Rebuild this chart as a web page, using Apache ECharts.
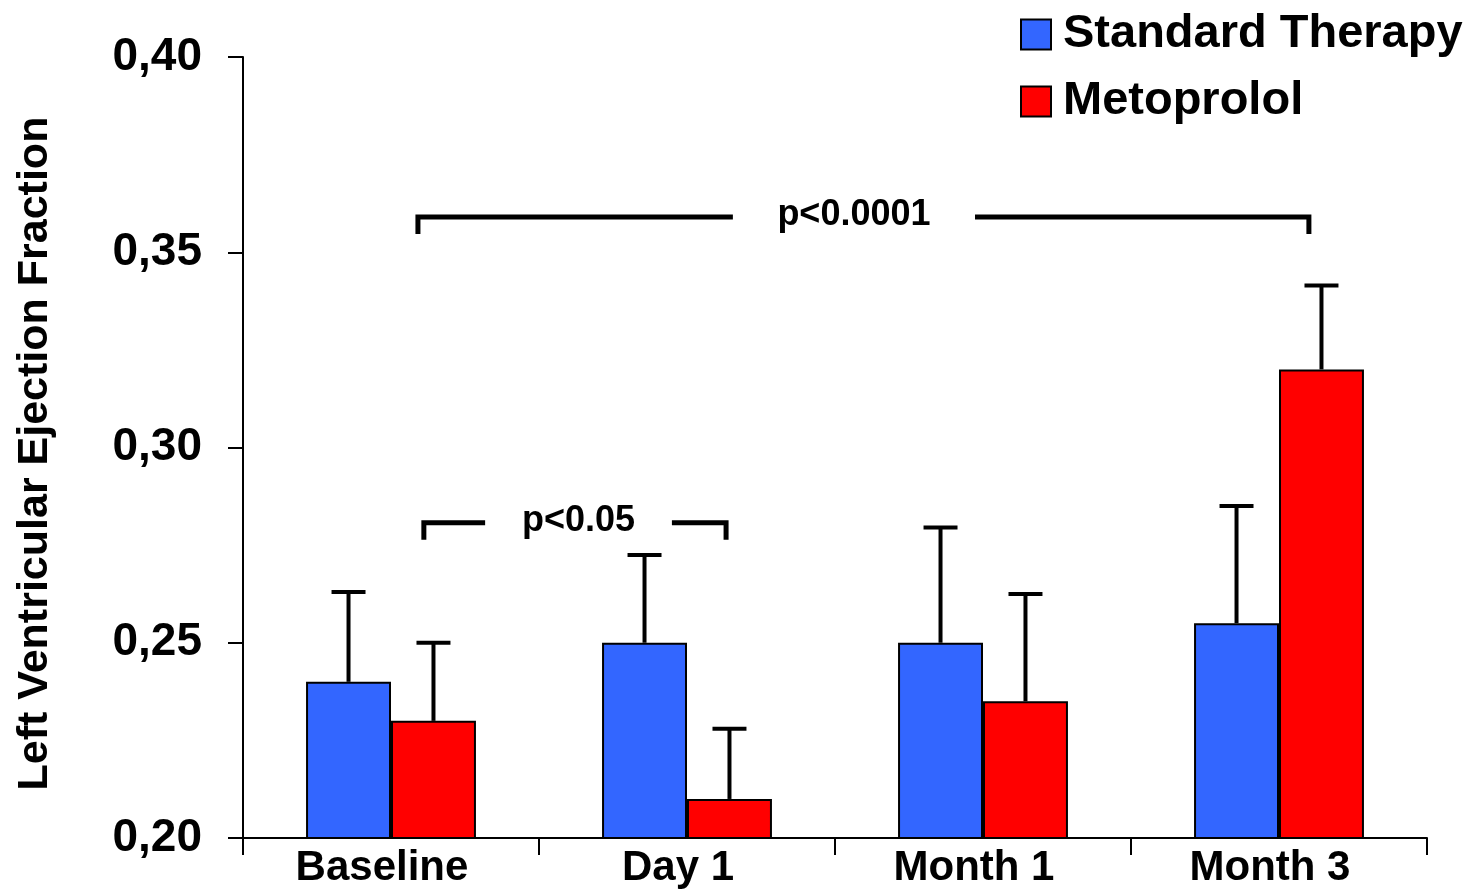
<!DOCTYPE html>
<html>
<head>
<meta charset="utf-8">
<script src="https://cdn.jsdelivr.net/npm/echarts@6/dist/echarts.min.js"></script>
<style>html,body{margin:0;padding:0;background:#fff}#c{width:1470px;height:891px}</style>
</head>
<body>
<div id="c"></div>
<script>
const categories = ['Baseline', 'Day 1', 'Month 1', 'Month 3'];
const seriesNames = ['Standard Therapy', 'Metoprolol'];
const standardMean = [0.240, 0.250, 0.250, 0.255];
const standardUpper = [0.263, 0.2725, 0.2795, 0.285];
const metoprololMean = [0.230, 0.210, 0.235, 0.320];
const metoprololUpper = [0.250, 0.228, 0.2625, 0.3415];
const yTicks = [0.20, 0.25, 0.30, 0.35, 0.40];
// brackets: [xStart, xEnd, y, gapStart, gapEnd] in category units
const bracketLabels = ['p<0.0001', 'p<0.05'];
const bracketStart = [0.591, 0.611];
const bracketEnd = [3.601, 1.632];
const bracketY = [0.359, 0.2807];
const bracketGapStart = [1.655, 0.818];
const bracketGapEnd = [2.473, 1.449];

const FONT = '"Liberation Sans", Arial, sans-serif';
const BLUE = '#3366FF', RED = '#FF0000';
const CAT_GAP = 0.426;

function errRender(side) {
  return function (params, api) {
    const idx = api.value(0);
    const p0 = api.coord([idx, api.value(1)]);
    const p1 = api.coord([idx, api.value(2)]);
    const band = api.size([1, 0])[0];
    const barW = band * (1 - CAT_GAP) / 2;
    const x = p0[0] + side * barW / 2;
    const cap = barW * 0.2;
    const st = { stroke: '#000', lineWidth: 4 };
    return {
      type: 'group',
      children: [
        { type: 'line', shape: { x1: x, y1: p0[1], x2: x, y2: p1[1] }, style: st },
        { type: 'line', shape: { x1: x - cap, y1: p1[1], x2: x + cap, y2: p1[1] }, style: st }
      ]
    };
  };
}

function bracketRender(params, api) {
  const xs = api.value(0), xe = api.value(1), y = api.value(2), gs = api.value(3), ge = api.value(4);
  const a = api.coord([xs, y]), b = api.coord([xe, y]), g1 = api.coord([gs, y]), g2 = api.coord([ge, y]);
  const tick = 17;
  const st = { stroke: '#000', lineWidth: 5, fill: null };
  return {
    type: 'group',
    children: [
      { type: 'polyline', shape: { points: [[a[0], a[1] + tick], [a[0], a[1]], [g1[0], g1[1]]] }, style: st },
      { type: 'polyline', shape: { points: [[g2[0], g2[1]], [b[0], b[1]], [b[0], b[1] + tick]] }, style: st },
      { type: 'text', style: { text: bracketLabels[params.dataIndex], x: (g1[0] + g2[0]) / 2, y: a[1] - 2,
        align: 'center', verticalAlign: 'middle', font: 'bold 36px ' + FONT, fill: '#000' } }
    ]
  };
}

const chart = echarts.init(document.getElementById('c'), null, { renderer: 'canvas' });
chart.setOption({
  animation: false,
  backgroundColor: '#fff',
  textStyle: { fontFamily: FONT },
  grid: { left: 243, right: 43, top: 57, bottom: 53, containLabel: false },
  legend: {
    orient: 'vertical', left: 1015, top: 6, itemWidth: 30, itemHeight: 30, itemGap: 20,
    icon: 'rect',
    itemStyle: { borderColor: '#000', borderWidth: 2 },
    textStyle: { fontSize: 47, fontWeight: 'bold', color: '#000', fontFamily: FONT, padding: [0, 0, 0, 7] },
    data: seriesNames
  },
  xAxis: [
    {
      type: 'category', data: categories, boundaryGap: true,
      axisLine: { lineStyle: { color: '#000', width: 2 } },
      axisTick: { show: true, length: 17, inside: false, lineStyle: { color: '#000', width: 2 } },
      axisLabel: { color: '#000', fontSize: 42, fontWeight: 'bold', fontFamily: FONT, margin: 9, padding: [0, 18, 0, 0] }
    },
    { type: 'value', min: 0, max: 4, show: false }
  ],
  yAxis: {
    type: 'value', min: 0.2, max: 0.4, interval: 0.05,
    name: 'Left Ventricular Ejection Fraction', nameLocation: 'middle', nameGap: 186, nameRotate: 90,
    nameTextStyle: { color: '#000', fontSize: 43, fontWeight: 'bold', fontFamily: FONT, padding: [0, 12, 0, 0] },
    splitLine: { show: false },
    axisLine: { show: true, lineStyle: { color: '#000', width: 2 } },
    axisTick: { show: true, length: 15, lineStyle: { color: '#000', width: 2 } },
    axisLabel: { color: '#000', fontSize: 46, fontWeight: 'bold', fontFamily: FONT, margin: 41,
      formatter: v => yTicks.some(t => Math.abs(t - v) < 1e-9) ? v.toFixed(2).replace('.', ',') : '' }
  },
  series: [
    { name: seriesNames[0], type: 'bar', data: standardMean, barGap: 0, barCategoryGap: (CAT_GAP * 100) + '%',
      itemStyle: { color: BLUE, borderColor: '#000', borderWidth: 2 } },
    { name: seriesNames[1], type: 'bar', data: metoprololMean, barGap: 0, barCategoryGap: (CAT_GAP * 100) + '%',
      itemStyle: { color: RED, borderColor: '#000', borderWidth: 2 } },
    { type: 'custom', renderItem: errRender(-1), xAxisIndex: 0, z: 3,
      data: standardMean.map((m, i) => [i, m, standardUpper[i]]), encode: { x: 0, y: [1, 2] } },
    { type: 'custom', renderItem: errRender(1), xAxisIndex: 0, z: 3,
      data: metoprololMean.map((m, i) => [i, m, metoprololUpper[i]]), encode: { x: 0, y: [1, 2] } },
    { type: 'custom', renderItem: bracketRender, xAxisIndex: 1, z: 4,
      data: bracketLabels.map((l, i) => [bracketStart[i], bracketEnd[i], bracketY[i], bracketGapStart[i], bracketGapEnd[i]]),
      encode: { x: [0, 1, 3, 4], y: 2 } }
  ]
});
</script>
</body>
</html>
